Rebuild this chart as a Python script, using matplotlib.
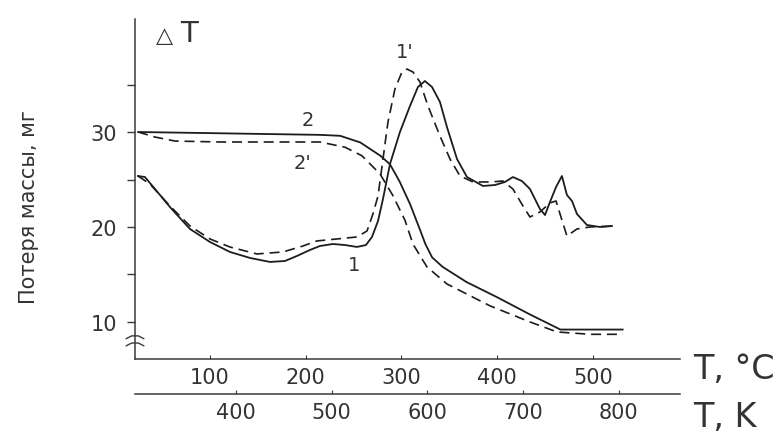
"""Courbes DTA / TG : perte de masse en fonction de la température.

Deux échantillons (1, 1' pour ΔT ; 2, 2' pour la masse), échelle double °C / K.
Le graphique est enregistré dans out.png.
"""

import matplotlib
matplotlib.use("Agg")
import matplotlib.pyplot as plt

# Courbe 2 (TG, trait plein)
t_tg = [25, 90, 152, 215, 236, 257, 278, 288, 298, 309, 319, 325, 332, 343,
        368, 400, 434, 466, 497, 531]
m_tg = [30.0, 29.9, 29.8, 29.7, 29.6, 28.9, 27.5, 26.6, 24.8, 22.4, 19.8, 18.2,
        16.8, 15.8, 14.2, 12.6, 10.8, 9.2, 9.2, 9.2]

# Courbe 2' (TG, tirets)
t_tg_b = [25, 42.6, 63.4, 110.4, 173.1, 214.9, 241, 258.7, 277.5, 291.1, 303.7,
          312, 326.6, 347.5, 392.4, 434.2, 462.4, 496.9, 531.3]
m_tg_b = [30.0, 29.47, 29.05, 28.95, 28.95, 28.95, 28.4, 27.5, 25.6, 23.3, 20.7,
          18.2, 15.8, 14.0, 11.7, 10.0, 8.95, 8.7, 8.7]

# Courbe 1 (ΔT, trait plein)
t_dta = [24.8, 32.1, 37.3, 47.8, 58.2, 79.1, 100, 120.9, 141.8, 162.7, 178.3,
         190.9, 204.4, 214.9, 228.5, 241, 253.5, 262.9, 269.2, 275.5, 280.7,
         288, 298.4, 308.9, 317.2, 324.5, 331.9, 340.2, 347.5, 358, 368.4,
         385.1, 397.7, 408.1, 416.4, 425.8, 434.2, 444.6, 449.9, 455.1, 461.4,
         467.6, 472.8, 478.1, 483.3, 493.7, 507.3, 519.8]
dt_dta = [25.37, 25.26, 24.63, 23.37, 22.1, 19.79, 18.42, 17.37, 16.74, 16.32,
          16.42, 16.95, 17.58, 18.0, 18.21, 18.1, 17.9, 18.1, 18.95, 20.63,
          22.95, 26.63, 30.0, 32.74, 34.74, 35.37, 34.74, 33.16, 30.53, 27.16,
          25.26, 24.32, 24.42, 24.74, 25.26, 24.84, 24.0, 21.9, 21.26, 22.63,
          24.2, 25.37, 23.37, 22.74, 21.37, 20.21, 20.0, 20.1]

# Courbe 1' (ΔT, tirets)
t_dta_b = [24.8, 37.3, 58.2, 79.1, 100, 120.9, 149.1, 176.2, 197.1, 211.7,
           232.6, 253.5, 264, 270.2, 275.5, 280.7, 285.9, 293.2, 300.5, 305.7,
           312, 319.3, 327.7, 340.2, 350.7, 361.1, 374.7, 392.4, 406, 416.4,
           426.9, 434.2, 444.6, 455.1, 461.4, 466.6, 472.8, 483.3, 496.9, 519.8]
dt_dta_b = [25.37, 24.53, 22.21, 20.11, 18.74, 17.89, 17.16, 17.37, 18.0, 18.53,
            18.74, 18.95, 19.58, 21.37, 23.26, 27.16, 31.05, 34.53, 36.32, 36.63,
            36.32, 35.26, 32.74, 29.58, 27.16, 25.37, 24.74, 24.74, 24.84, 24.0,
            22.21, 21.05, 21.58, 22.53, 22.74, 21.05, 19.05, 19.79, 20.0, 20.1]

y_ticks = [10, 20, 30]
y_minor = [15, 25, 35]
c_ticks = [100, 200, 300, 400, 500]
k_ticks = [400, 500, 600, 700, 800]

INK = "#1c1c1c"
AXIS = "#3a3a3a"
TXT = "#333333"

W, H = 781, 435
fig = plt.figure(figsize=(W / 100, H / 100), dpi=100)
fig.patch.set_facecolor("white")
ax = fig.add_axes([135 / W, 75 / H, 545 / W, 340 / H])

ax.set_xlim(21.7, 590.9)
ax.set_ylim(6.1, 41.9)

dash = (0, (6, 3.5))
ax.plot(t_tg, m_tg, color=INK, lw=1.3)
ax.plot(t_tg_b, m_tg_b, color=INK, lw=1.2, linestyle=dash)
ax.plot(t_dta, dt_dta, color=INK, lw=1.3)
ax.plot(t_dta_b, dt_dta_b, color=INK, lw=1.2, linestyle=dash)

# Numéros des courbes
for lab, tx, ty in [("2", 202, 31.3), ("2'", 197, 26.8), ("1", 251, 16.0), ("1'", 303, 38.5)]:
    ax.text(tx, ty, lab, fontsize=14, color=TXT, ha="center", va="center")

# Axes : seulement gauche et bas
for side in ("top", "right"):
    ax.spines[side].set_visible(False)
for side in ("left", "bottom"):
    ax.spines[side].set_color(AXIS)
    ax.spines[side].set_linewidth(1.1)

ax.set_yticks(y_ticks)
ax.set_yticks(y_minor, minor=True)
ax.tick_params(axis="y", which="both", direction="out", length=6, width=1.0,
               color=AXIS, labelsize=15, labelcolor=TXT, pad=7)

ax.set_xticks(c_ticks)
ax.tick_params(axis="x", direction="in", length=3, width=0.8, color=AXIS,
               labelsize=15, labelcolor=TXT, pad=6)

# Deuxième échelle en kelvins sous l'axe des °C
kax = ax.secondary_xaxis(-0.103, functions=(lambda c: c + 273, lambda k: k - 273))
kax.set_xticks(k_ticks)
kax.spines["bottom"].set_color(AXIS)
kax.spines["bottom"].set_linewidth(1.1)
kax.tick_params(axis="x", direction="in", length=3, width=0.8, color=AXIS,
                labelsize=15, labelcolor=TXT, pad=6)

# Coupure de l'axe des ordonnées
for yb in (0.068, 0.047):
    ax.plot([-0.016, -0.006, 0.006, 0.016], [yb - 0.008, yb, yb, yb - 0.008],
            transform=ax.transAxes, color=AXIS, lw=1.0, clip_on=False)

fig.text(156 / W, 1 - 42 / H, "△", fontsize=16, color=TXT, ha="left", va="baseline")
fig.text(180 / W, 1 - 42 / H, "T", fontsize=21, color=TXT, ha="left", va="baseline")
fig.text(29 / W, 1 - 207 / H, "Потеря массы, мг", rotation=90, fontsize=15,
         color=TXT, ha="center", va="center",
         family=["Liberation Sans Narrow", "DejaVu Sans"])
fig.text(693 / W, 1 - 370 / H, "T, °C", fontsize=24, color=TXT, ha="left", va="center")
fig.text(693 / W, 1 - 418 / H, "T, K", fontsize=24, color=TXT, ha="left", va="center")

fig.savefig("out.png", dpi=100, facecolor="white")
